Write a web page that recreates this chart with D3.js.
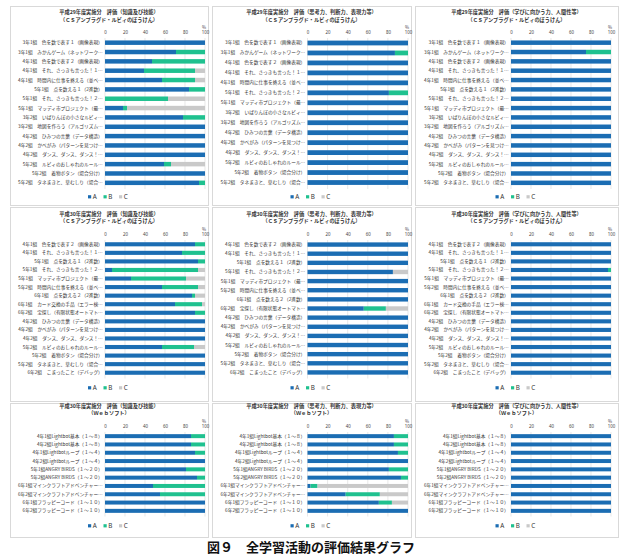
<!DOCTYPE html>
<html>
<head>
<meta charset="utf-8">
<script src="https://cdn.jsdelivr.net/npm/d3@7"></script>
<style>
  body { margin: 0; background: #fff; }
  svg { font-family: "Noto Sans CJK JP", "Noto Sans", sans-serif; }
</style>
</head>
<body>
<svg id="chart" width="630" height="560"></svg>
<script>
// ---- data ----
var series = ["A", "B", "C"];
var ticks = [0, 20, 40, 60, 80, 100];

var titles = [
  "評価（知識及び技能）",
  "評価（思考力、判断力、表現力等）",
  "評価（学びに向かう力、人間性等）"
];
var years = ["平成29年度実施分", "平成30年度実施分", "平成30年度実施分"];
var subtitles = ["（ＣＳアンプラグド・ルビィのぼうけん）", "（ＣＳアンプラグド・ルビィのぼうけん）", "（Ｗｅｂソフト）"];

var labels29 = [
  "3年1組　色を数で表す１（画像表現）",
  "3年1組　みかんゲーム（ネットワーク…",
  "4年1組　色を数で表す２（画像表現）",
  "4年1組　それ、さっきも言った！１…",
  "4年1組　時間内に仕事を終える（並べ…",
  "5年1組　点を数える１（2進数）",
  "5年1組　それ、さっきも言った！２…",
  "5年1組　マッディ市プロジェクト（最…",
  "3年2組　いばりんぼの小さなルビィ…",
  "3年2組　地図を作ろう（アルゴリズム…",
  "4年2組　ひみつの言葉（データ構造）",
  "4年2組　かべがみ（パターンを見つけ…",
  "4年2組　ダンス、ダンス、ダンス！…",
  "5年2組　ルビィのおしゃれのルール…",
  "5年2組　着物ボタン（場合分け）",
  "5年2組　タネまきと、草むしり（場合…"
];
var labels29b = [
  "3年1組　色を数で表す１（画像表現）",
  "3年1組　みかんゲーム（ネットワーク…",
  "4年1組　色を数で表す２（画像表現）",
  "4年1組　それ、さっきも言った！１…",
  "4年1組　時間内に仕事を終える（並べ…",
  "5年1組　それ、さっきも言った！２…",
  "5年1組　マッディ市プロジェクト（最…",
  "3年2組　いばりんぼの小さなルビィ…",
  "3年2組　地図を作ろう（アルゴリズム…",
  "4年2組　ひみつの言葉（データ構造）",
  "4年2組　かべがみ（パターンを見つけ…",
  "4年2組　ダンス、ダンス、ダンス！…",
  "5年2組　ルビィのおしゃれのルール…",
  "5年2組　着物ボタン（場合分け）",
  "5年2組　タネまきと、草むしり（場合…"
];
var labels30 = [
  "4年1組　色を数で表す２（画像表現）",
  "4年1組　それ、さっきも言った！１…",
  "5年1組　点を数える１（2進数）",
  "5年1組　それ、さっきも言った！２…",
  "5年1組　マッディ市プロジェクト（最…",
  "5年2組　時間内に仕事を終える（並べ…",
  "6年1組　点を数える２（2進数）",
  "6年1組　カード交換の手品（エラー検…",
  "6年2組　宝探し（有限状態オートマト…",
  "4年2組　ひみつの言葉（データ構造）",
  "4年2組　かべがみ（パターンを見つけ…",
  "4年2組　ダンス、ダンス、ダンス！…",
  "5年2組　ルビィのおしゃれのルール…",
  "5年2組　着物ボタン（場合分け）",
  "5年2組　タネまきと、草むしり（場合…",
  "6年2組　こまったこと（デバッグ）"
];
var labels30b = [
  "4年1組　色を数で表す２（画像表現）",
  "4年1組　それ、さっきも言った！１…",
  "5年1組　点を数える１（2進数）",
  "5年1組　それ、さっきも言った！２…",
  "5年1組　マッディ市プロジェクト（最…",
  "5年2組　時間内に仕事を終える（並べ…",
  "6年1組　点を数える２（2進数）",
  "6年2組　宝探し（有限状態オートマト…",
  "4年2組　ひみつの言葉（データ構造）",
  "4年2組　かべがみ（パターンを見つけ…",
  "4年2組　ダンス、ダンス、ダンス！…",
  "5年2組　ルビィのおしゃれのルール…",
  "5年2組　着物ボタン（場合分け）",
  "5年2組　タネまきと、草むしり（場合…",
  "6年2組　こまったこと（デバッグ）"
];
var labelsWeb = [
  "4年1組Lightbot基本（１～８）",
  "4年2組Lightbot基本（１～８）",
  "4年1組Lightbotループ（１～４）",
  "4年2組Lightbotループ（１～４）",
  "5年1組ANGRY BIRDS（１～２０）",
  "5年2組ANGRY BIRDS（１～２０）",
  "6年1組マインクラフトアドベンチャー…",
  "6年2組マインクラフトアドベンチャー…",
  "6年1組フラッピーコード（１～１０）",
  "6年2組フラッピーコード（１～１０）"
];

// panel 1: 29年度 知識及び技能
var p1A = [100, 71, 47, 39, 57, 84, 0, 18, 78, 100, 100, 100, 100, 59, 100, 94];
var p1B = [0, 29, 53, 51, 33, 16, 63, 4, 22, 0, 0, 0, 0, 7, 0, 6];
var p1C = [0, 0, 0, 10, 10, 0, 37, 78, 0, 0, 0, 0, 0, 34, 0, 0];
// panel 2: 29年度 思考力
var p2A = [100, 87, 100, 100, 100, 81, 100, 100, 100, 100, 100, 100, 100, 100, 100];
var p2B = [0, 13, 0, 0, 0, 19, 0, 0, 0, 0, 0, 0, 0, 0, 0];
var p2C = [0, 0, 0, 0, 0, 0, 0, 0, 0, 0, 0, 0, 0, 0, 0];
// panel 3: 29年度 学びに向かう力
var p3A = [100, 75, 100, 100, 100, 100, 100, 100, 100, 100, 100, 100, 100, 100, 100, 100];
var p3B = [0, 25, 0, 0, 0, 0, 0, 0, 0, 0, 0, 0, 0, 0, 0, 0];
var p3C = [0, 0, 0, 0, 0, 0, 0, 0, 0, 0, 0, 0, 0, 0, 0, 0];
// panel 4: 30年度 知識及び技能
var p4A = [90, 77, 93, 7, 26, 57, 87, 70, 90, 100, 100, 100, 57, 100, 100, 100];
var p4B = [10, 23, 7, 86, 55, 36, 3, 27, 10, 0, 0, 0, 32, 0, 0, 0];
var p4C = [0, 0, 0, 7, 19, 7, 10, 3, 0, 0, 0, 0, 11, 0, 0, 0];
// panel 5: 30年度 思考力
var p5A = [100, 100, 100, 85, 100, 100, 100, 56, 100, 100, 100, 100, 100, 100, 100];
var p5B = [0, 0, 0, 0, 0, 0, 0, 22, 0, 0, 0, 0, 0, 0, 0];
var p5C = [0, 0, 0, 15, 0, 0, 0, 22, 0, 0, 0, 0, 0, 0, 0];
// panel 6: 30年度 学びに向かう力
var p6A = [100, 100, 100, 97, 100, 100, 100, 100, 100, 100, 100, 100, 100, 100, 100, 100];
var p6B = [0, 0, 0, 3, 0, 0, 0, 0, 0, 0, 0, 0, 0, 0, 0, 0];
var p6C = [0, 0, 0, 0, 0, 0, 0, 0, 0, 0, 0, 0, 0, 0, 0, 0];
// panel 7: Web 知識及び技能
var p7A = [86, 86, 90, 100, 81, 92, 48, 55, 100, 100];
var p7B = [14, 14, 10, 0, 19, 8, 52, 45, 0, 0];
var p7C = [0, 0, 0, 0, 0, 0, 0, 0, 0, 0];
// panel 8: Web 思考力
var p8A = [86, 86, 90, 100, 81, 93, 3, 38, 71, 100];
var p8B = [14, 14, 10, 0, 19, 7, 7, 34, 13, 0];
var p8C = [0, 0, 0, 0, 0, 0, 90, 28, 16, 0];
// panel 9: Web 学びに向かう力
var p9A = [100, 100, 100, 100, 100, 100, 100, 100, 100, 100];
var p9B = [0, 0, 0, 0, 0, 0, 0, 0, 0, 0];
var p9C = [0, 0, 0, 0, 0, 0, 0, 0, 0, 0];

var colors = { A: "#1b6db3", B: "#1fc18f", C: "#c9c9c9" };

// ---- layout ----
var cols = [
  { x: 10, w: 198, px0: 105, px1: 205 },
  { x: 212, w: 199, px0: 307.5, px1: 408 },
  { x: 415, w: 203, px0: 511, px1: 611 }
];
var rows = [
  { y: 6, h: 199, t1: 14, t2: 21.5, top: 38, bottom: 187.5, leg: 198.5 },
  { y: 207, h: 194, t1: 215.5, t2: 223, top: 240, bottom: 377, leg: 389.5 },
  { y: 403, h: 134, t1: 408, t2: 415, top: 432, bottom: 515, leg: 527.5 }
];

var panels = [
  [labels29, p1A, p1B, p1C], [labels29b, p2A, p2B, p2C], [labels29, p3A, p3B, p3C],
  [labels30, p4A, p4B, p4C], [labels30b, p5A, p5B, p5C], [labels30, p6A, p6B, p6C],
  [labelsWeb, p7A, p7B, p7C], [labelsWeb, p8A, p8B, p8C], [labelsWeb, p9A, p9B, p9C]
];

var svg = d3.select("#chart");

panels.forEach(function (p, i) {
  var c = cols[i % 3], r = rows[Math.floor(i / 3)];
  var labels = p[0];
  var data = labels.map(function (d, k) {
    return { label: d, A: p[1][k], B: p[2][k], C: p[3][k] };
  });

  var g = svg.append("g");

  g.append("rect")
    .attr("x", c.x + 0.5).attr("y", r.y + 0.5)
    .attr("width", c.w).attr("height", r.h)
    .attr("fill", "#fff").attr("stroke", "#d9d9d9").attr("stroke-width", 1);

  var cx = c.x + c.w / 2;
  g.append("text")
    .attr("x", cx).attr("y", r.t1)
    .attr("text-anchor", "middle").attr("font-size", 5.2).attr("font-weight", 700)
    .attr("fill", "#333")
    .text(years[Math.floor(i / 3)] + "　" + titles[i % 3]);
  g.append("text")
    .attr("x", cx).attr("y", r.t2)
    .attr("text-anchor", "middle").attr("font-size", 5.2).attr("font-weight", 700)
    .attr("fill", "#333")
    .text(subtitles[Math.floor(i / 3)]);

  var x = d3.scaleLinear().domain([0, 100]).range([c.px0, c.px1]);
  var y = d3.scaleBand()
    .domain(labels)
    .range([r.top, r.bottom])
    .paddingInner(0.52).paddingOuter(0.26);

  // gridlines
  g.append("g").selectAll("line")
    .data(ticks).enter().append("line")
    .attr("x1", function (d) { return x(d); })
    .attr("x2", function (d) { return x(d); })
    .attr("y1", r.top)
    .attr("y2", r.bottom + 1.5)
    .attr("stroke", "#d9d9d9").attr("stroke-width", 0.6);

  // top axis
  var ax = g.append("g")
    .attr("transform", "translate(0," + (r.top - 2.5) + ")")
    .call(d3.axisTop(x).tickValues(ticks).tickSize(0).tickPadding(1.2));
  ax.select(".domain").remove();
  ax.selectAll("text").attr("font-size", 4.4).attr("fill", "#444")
    .attr("font-family", "'Noto Sans', sans-serif");
  g.append("text")
    .attr("x", x(100) - 1).attr("y", r.top - 9.5)
    .attr("text-anchor", "middle").attr("font-size", 4.4).attr("fill", "#444")
    .text("%");

  // category labels
  var ay = g.append("g")
    .attr("transform", "translate(" + c.px0 + ",0)")
    .call(d3.axisLeft(y).tickSize(0).tickPadding(2.2));
  ay.select(".domain").remove();
  ay.selectAll("text").attr("font-size", 4.7).attr("fill", "#333")
    .attr("font-family", "'Noto Sans CJK JP', sans-serif");

  // stacked bars
  var stack = d3.stack().keys(series)(data);
  g.append("g").selectAll("g")
    .data(stack).enter().append("g")
    .attr("fill", function (d) { return colors[d.key]; })
    .selectAll("rect")
    .data(function (d) { return d; }).enter().append("rect")
    .attr("x", function (d) { return x(d[0]); })
    .attr("width", function (d) { return x(d[1]) - x(d[0]); })
    .attr("y", function (d) { return y(d.data.label); })
    .attr("height", y.bandwidth());

  // legend
  var leg = g.append("g")
    .attr("transform", "translate(" + (cx - 21) + "," + r.leg + ")");
  var item = leg.selectAll("g").data(series).enter().append("g")
    .attr("transform", function (d, k) { return "translate(" + (k * 15.5) + ",0)"; });
  item.append("rect")
    .attr("x", 0).attr("y", -3.3).attr("width", 3.2).attr("height", 3.2)
    .attr("fill", function (d) { return colors[d]; });
  item.append("text")
    .attr("x", 4.8).attr("y", 0.4)
    .attr("font-size", 6.3).attr("fill", "#333")
    .attr("font-family", "'Noto Sans', sans-serif")
    .text(function (d) { return d; });
});

// caption
svg.append("text")
  .attr("x", 311).attr("y", 552)
  .attr("text-anchor", "middle")
  .attr("font-size", 13).attr("font-weight", 700)
  .attr("fill", "#111")
  .text("図９　全学習活動の評価結果グラフ");
</script>
</body>
</html>
